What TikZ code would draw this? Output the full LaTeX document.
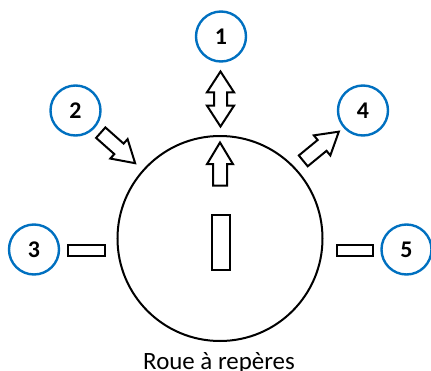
\documentclass[tikz,border=0pt]{standalone}
\usepackage{fontspec}
\setmainfont{Carlito}
\usepackage{tikz}
\usetikzlibrary{shapes.arrows}

\definecolor{ringblue}{RGB}{0,112,192}

\begin{document}
\begin{tikzpicture}[x=1bp,y=-1bp,line width=2bp]
\tikzstyle{marker}=[circle,draw=ringblue,line width=2.4bp,minimum size=50bp,inner sep=0pt,font=\fontsize{24}{26}\selectfont\bfseries]
\tikzstyle{slot}=[rectangle,draw,inner sep=0pt]
\tikzstyle{fat arrow}=[single arrow,draw,inner xsep=0pt,inner ysep=6bp,single arrow head extend=6bp,single arrow tip angle=62]
\useasboundingbox (0,0) rectangle (431,371);

\node[circle,draw,minimum size=205bp,inner sep=0pt] (wheel) at (220,238.5) {};
\node[anchor=base,font=\fontsize{25}{28}\selectfont] (label) at (219,369) {Roue à repères};

\node[marker] (M1) at (221,36.5)    {1};
\node[marker] (M2) at (75.5,110.5)  {2};
\node[marker] (M3) at (34,249.5)    {3};
\node[marker] (M4) at (363,110.5)   {4};
\node[marker] (M5) at (406.5,249.5) {5};

\node[slot,minimum width=18bp,minimum height=55bp] (mark)  at (221,242.5) {};
\node[slot,minimum width=37bp,minimum height=11bp] (slotL) at (86.5,250.5) {};
\node[slot,minimum width=36bp,minimum height=11bp] (slotR) at (355,250.5) {};

\node[double arrow,draw,inner xsep=0pt,inner ysep=5.5bp,double arrow head extend=7bp,double arrow tip angle=66,
      minimum height=55bp,rotate=90] (push) at (220.5,99) {};
\node[fat arrow,minimum height=43bp,rotate=90,anchor=tail] (up) at (220,186.5) {};
\node[fat arrow,minimum height=46bp,rotate=-41.6,anchor=tail] (in) at (100,132) {};
\node[fat arrow,minimum height=46bp,rotate=39.4,anchor=tail] (out) at (302.5,161.5) {};
\end{tikzpicture}
\end{document}
